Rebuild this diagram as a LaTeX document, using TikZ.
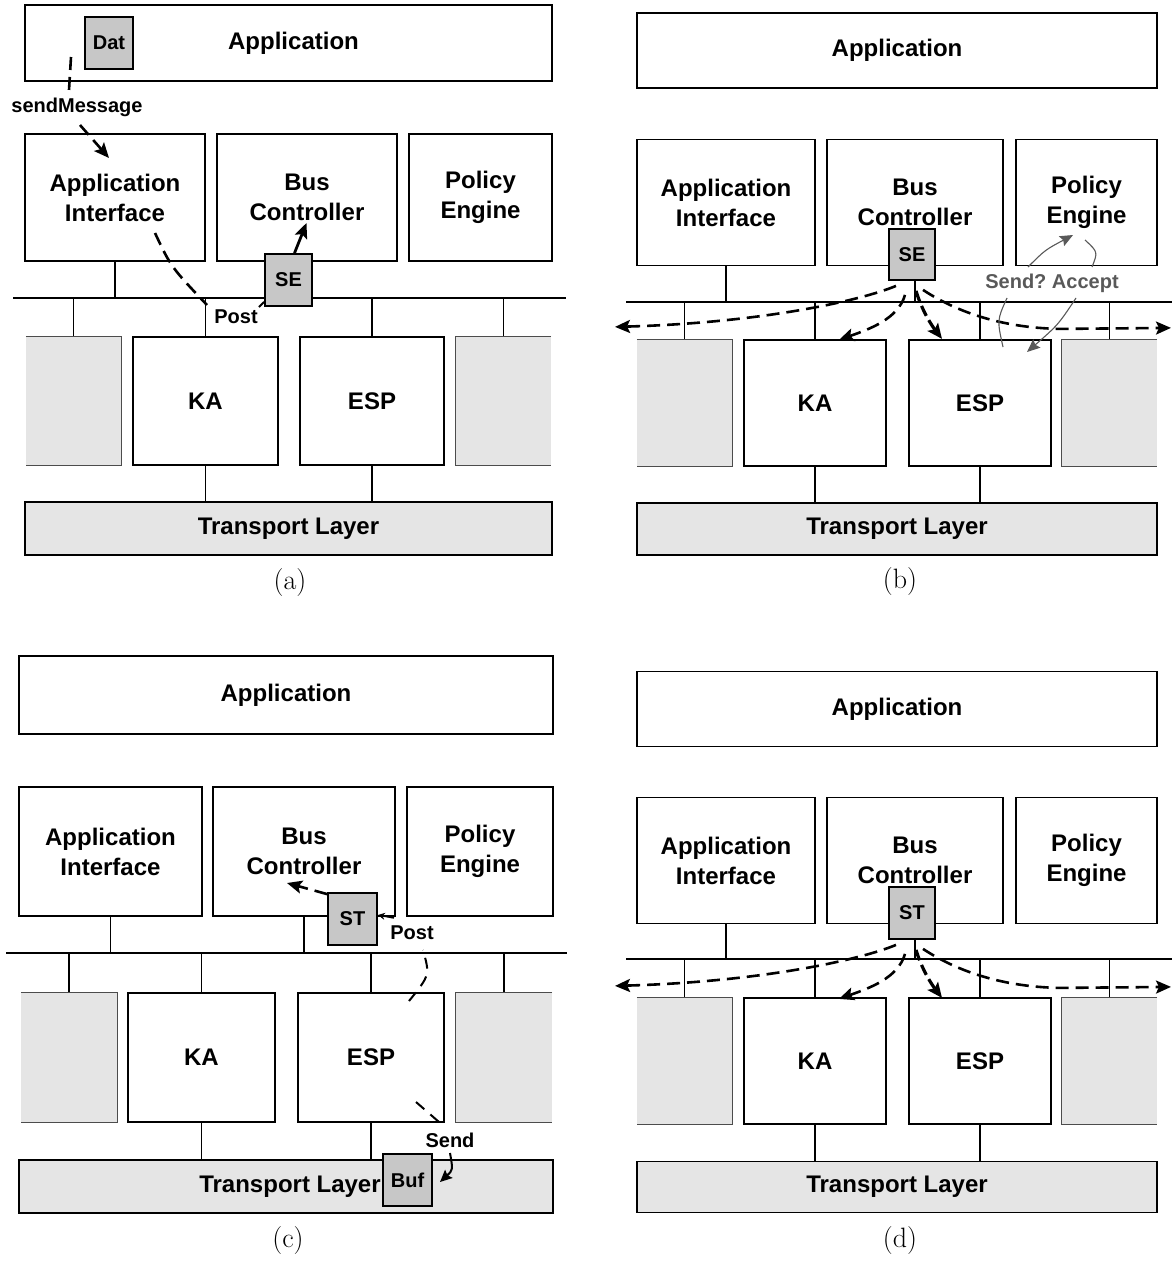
\documentclass[tikz,border=0pt]{standalone}
\usepackage{fontspec}
\newfontfamily\arialf{Liberation Sans}
\usetikzlibrary{arrows.meta,calc}
\newcommand\bigfont{\arialf\bfseries\fontsize{24}{30}\selectfont}
\newcommand\smallfont{\arialf\bfseries\fontsize{20}{24}\selectfont}
\newcommand\fanarrows[2]{%
 \begin{scope}[shift={(#1.south)}]
  \coordinate (#2L0) at (-16,5);  \coordinate (#2L1) at (-297,46);
  \coordinate (#2K0) at (-7,14);  \coordinate (#2K1) at (-73,59);
  \coordinate (#2E0) at (4,10);   \coordinate (#2E1) at (30,58);
  \coordinate (#2R0) at (11,9);   \coordinate (#2Rm) at (148,48); \coordinate (#2R1) at (259,47);
  \draw[dsh,tip] (#2L0) .. controls (-52,20) and (-152,42) .. (#2L1);
  \draw[dsh,tip] (#2K0) .. controls (-14,38) and (-42,48) .. (#2K1);
  \draw[dshb,tip] (#2E0) .. controls (10,30) and (20,45) .. (#2E1);
  \draw[dsh,tip] (#2R0) .. controls (43,30) and (88,47) .. (#2Rm) -- (#2R1);
 \end{scope}}
\begin{document}
\begin{tikzpicture}[x=1pt,y=-1pt,
  sz/.style 2 args={minimum width=#1pt,minimum height=#2pt},
  box/.style={draw=black,line width=1.6pt,fill=white,inner sep=0pt,align=center,font=\bigfont},
  tbox/.style={box,fill=black!10},
  gbox/.style={fill=black!10,inner sep=0pt},
  gedge/.style={draw=black!70,line width=1.3pt},
  sbox/.style={draw=black,line width=1.8pt,fill=black!22,inner sep=0pt,font=\smallfont},
  wire/.style={draw=black,line width=1.1pt},
  lbl/.style={font=\smallfont,inner sep=0pt},
  tip/.style={-{Stealth[length=15pt,width=13pt,inset=3pt]}},
  smalltip/.style={-{Stealth[length=12pt,width=11pt,inset=2pt]}},
  dsh/.style={line width=2.6pt,dash pattern=on 13pt off 7pt},
  dshb/.style={line width=3.2pt,dash pattern=on 11pt off 5pt},
  dsht/.style={line width=2pt,dash pattern=on 11pt off 8pt},
  gline/.style={draw=black!65,line width=1.1pt},
  gtip/.style={-{Stealth[length=13pt,width=11pt,inset=2pt]}},
  sub/.style={font=\fontsize{28}{32}\selectfont,inner sep=0pt},
]
\useasboundingbox (0,0) rectangle (1172,1261);

% ================= panel (a) =================
\node[box,sz={527}{76}] (aApp) at (288.5,43) {\hspace*{10pt}Application};
\node[box,sz={180}{127}] (aAI) at (115,197.5) {Application\\Interface};
\node[box,sz={180}{127}] (aBC) at (307,197.5) {Bus\\Controller};
\node[box,sz={143}{127}] (aPE) at (480.5,197.5) {Policy\\Engine};
\node[gbox,sz={95}{128}] (aG1) at (73.5,401) {};
\node[box,sz={145}{128}] (aKA) at (205.5,401) {KA};
\node[box,sz={144}{128}] (aESP) at (372,401) {ESP};
\node[gbox,sz={95}{128}] (aG2) at (503.5,401) {};
\node[tbox,sz={527}{53}] (aTL) at (288.5,528.5) {Transport Layer};
\coordinate (aBusL) at (13,298); \coordinate (aBusR) at (566,298);
\draw[wire] (aBusL) -- (aBusR);
\foreach \nm in {aAI,aBC} \draw[wire] (\nm.south) -- (\nm.south |- aBusL);
\foreach \nm in {aG1,aKA,aESP,aG2} \draw[wire] (\nm.north) -- (\nm.north |- aBusL);
\foreach \nm in {aKA,aESP} \draw[wire] (\nm.south) -- (\nm.south |- aTL.north);
\draw[gedge] (aG1.north west) -- (aG1.north east) -- (aG1.south east) -- (aG1.south west);
\draw[gedge] (aG2.north east) -- (aG2.north west) -- (aG2.south west) -- (aG2.south east);
\node[sbox,sz={48}{52}] (aDat) at (109,43) {Dat};
\node[lbl] (aSend) at (77,107) {sendMessage};
\coordinate (a1) at (71,57); \coordinate (a2) at (69,90);
\coordinate (a3) at (80,125); \coordinate (a4) at (109,158);
\draw[dsh] (a1) -- (a2);
\draw[dsh,tip] (a3) -- (a4);
\node[sbox,sz={47}{52}] (aSE) at (288.5,280) {SE};
\node[lbl] (aPost) at (236,317) {Post};
\coordinate (a5) at (155,233); \coordinate (a6) at (207,305);
\draw[dsh] (a5) .. controls (171,267) .. (a6);
\coordinate (a7) at (259,307);
\draw[line width=2pt] (a7) -- ([yshift=5pt]aSE.south west);
\coordinate (a8) at (306.5,223);
\draw[line width=2.8pt,tip] ([xshift=6pt]aSE.north) -- (a8);
\node[sub] (labA) at (290,583) {(a)};

% ================= panel (b) =================
\node[box,sz={520}{75}] (bApp) at (897,50.5) {Application};
\node[box,sz={178}{126}] (bAI) at (726,202.5) {Application\\Interface};
\node[box,sz={176}{126}] (bBC) at (915,202.5) {Bus\\Controller};
\node[box,sz={141}{126}] (bPE) at (1086.5,202.5) {Policy\\Engine};
\node[gbox,sz={95}{126}] (bG1) at (684.5,403) {};
\node[box,sz={142}{126}] (bKA) at (815,403) {KA};
\node[box,sz={142}{126}] (bESP) at (980,403) {ESP};
\node[gbox,sz={95}{126}] (bG2) at (1109.5,403) {};
\node[tbox,sz={520}{52}] (bTL) at (897,529) {Transport Layer};
\coordinate (bBusL) at (626,302); \coordinate (bBusR) at (1172,302);
\draw[wire] (bBusL) -- (bBusR);
\foreach \nm in {bAI,bBC} \draw[wire] (\nm.south) -- (\nm.south |- bBusL);
\foreach \nm in {bG1,bKA,bESP,bG2} \draw[wire] (\nm.north) -- (\nm.north |- bBusL);
\foreach \nm in {bKA,bESP} \draw[wire] (\nm.south) -- (\nm.south |- bTL.north);
\draw[gedge] (bG1.north west) -- (bG1.north east) -- (bG1.south east) -- (bG1.south west);
\draw[gedge] (bG2.north east) -- (bG2.north west) -- (bG2.south west) -- (bG2.south east);
\node[sbox,sz={46}{51}] (bSE) at (912,254.5) {SE};
\fanarrows{bSE}{bf}
\node[lbl,text=black!65] (bSA) at (1052,283) {Send?\ Accept};
\coordinate (bq0) at (1028,267); \coordinate (bq1) at (1073,235);
\coordinate (bq2) at (1085,240); \coordinate (bq3) at (1092,267);
\coordinate (bq4) at (1007,298); \coordinate (bq5) at (1003,347);
\coordinate (bq6) at (1076,298); \coordinate (bq7) at (1027,352);
\draw[gline,gtip] (bq0) .. controls (1045,250) .. (bq1);
\draw[gline] (bq2) .. controls (1098,252) .. (bq3);
\draw[gline] (bq4) .. controls (997,320) .. (bq5);
\draw[gline,gtip] (bq6) .. controls (1058,325) .. (bq7);
\node[sub] (labB) at (900,582) {(b)};

% ================= panel (c) =================
\node[box,sz={534}{78}] (cApp) at (286,695) {Application};
\node[box,sz={183}{129}] (cAI) at (110.5,851.5) {Application\\Interface};
\node[box,sz={182}{129}] (cBC) at (304,851.5) {Bus\\Controller};
\node[box,sz={146}{129}] (cPE) at (480,851.5) {Policy\\Engine};
\node[gbox,sz={96}{129}] (cG1) at (69,1057.5) {};
\node[box,sz={147}{129}] (cKA) at (201.5,1057.5) {KA};
\node[box,sz={146}{129}] (cESP) at (371,1057.5) {ESP};
\node[gbox,sz={96}{129}] (cG2) at (504,1057.5) {};
\node[tbox,sz={534}{53}] (cTL) at (286,1186.5) {\hspace*{8pt}Transport Layer};
\coordinate (cBusL) at (6,953); \coordinate (cBusR) at (567,953);
\draw[wire] (cBusL) -- (cBusR);
\foreach \nm in {cAI,cBC} \draw[wire] (\nm.south) -- (\nm.south |- cBusL);
\foreach \nm in {cG1,cKA,cESP,cG2} \draw[wire] (\nm.north) -- (\nm.north |- cBusL);
\foreach \nm in {cKA,cESP} \draw[wire] (\nm.south) -- (\nm.south |- cTL.north);
\draw[gedge] (cG1.north west) -- (cG1.north east) -- (cG1.south east) -- (cG1.south west);
\draw[gedge] (cG2.north east) -- (cG2.north west) -- (cG2.south west) -- (cG2.south east);
\node[sbox,sz={49}{52}] (cST) at (352.5,919) {ST};
\node[sbox,sz={49}{52}] (cBuf) at (407.5,1180) {Buf};
\node[lbl] (cPost) at (412,933) {Post};
\node[lbl] (cSend) at (450,1140) {Send};
\coordinate (c1) at (287,883);
\draw[dsh,tip] ([yshift=-2pt]cST.north west) -- (c1);
\coordinate (c2) at (394,918);
\draw[line width=1.5pt,-{Stealth[length=7pt,width=7pt]}] (c2) -- ([yshift=4pt]cST.east);
\coordinate (c3) at (409,1001); \coordinate (c4) at (423,950);
\draw[dsht] (c3) .. controls (430,975) .. (c4);
\coordinate (c5) at (416,1102); \coordinate (c6) at (439,1122);
\draw[dsht] (c5) -- (c6);
\coordinate (c7) at (450,1153); \coordinate (c8) at (440,1182);
\draw[line width=2pt,smalltip] (c7) .. controls (453,1170) .. (c8);
\node[sub] (labC) at (288,1240) {(c)};

% ================= panel (d) =================
\node[box,sz={520}{75}] (dApp) at (897,709) {Application};
\node[box,sz={178}{126}] (dAI) at (726,860.5) {Application\\Interface};
\node[box,sz={176}{126}] (dBC) at (915,860.5) {Bus\\Controller};
\node[box,sz={141}{126}] (dPE) at (1086.5,860.5) {Policy\\Engine};
\node[gbox,sz={95}{126}] (dG1) at (684.5,1061) {};
\node[box,sz={142}{126}] (dKA) at (815,1061) {KA};
\node[box,sz={142}{126}] (dESP) at (980,1061) {ESP};
\node[gbox,sz={95}{126}] (dG2) at (1109.5,1061) {};
\node[tbox,sz={520}{51}] (dTL) at (897,1187) {Transport Layer};
\coordinate (dBusL) at (626,959); \coordinate (dBusR) at (1172,959);
\draw[wire] (dBusL) -- (dBusR);
\foreach \nm in {dAI,dBC} \draw[wire] (\nm.south) -- (\nm.south |- dBusL);
\foreach \nm in {dG1,dKA,dESP,dG2} \draw[wire] (\nm.north) -- (\nm.north |- dBusL);
\foreach \nm in {dKA,dESP} \draw[wire] (\nm.south) -- (\nm.south |- dTL.north);
\draw[gedge] (dG1.north west) -- (dG1.north east) -- (dG1.south east) -- (dG1.south west);
\draw[gedge] (dG2.north east) -- (dG2.north west) -- (dG2.south west) -- (dG2.south east);
\node[sbox,sz={46}{52}] (dST) at (912,913) {ST};
\fanarrows{dST}{df}
\node[sub] (labD) at (900,1240) {(d)};
\end{tikzpicture}
\end{document}
